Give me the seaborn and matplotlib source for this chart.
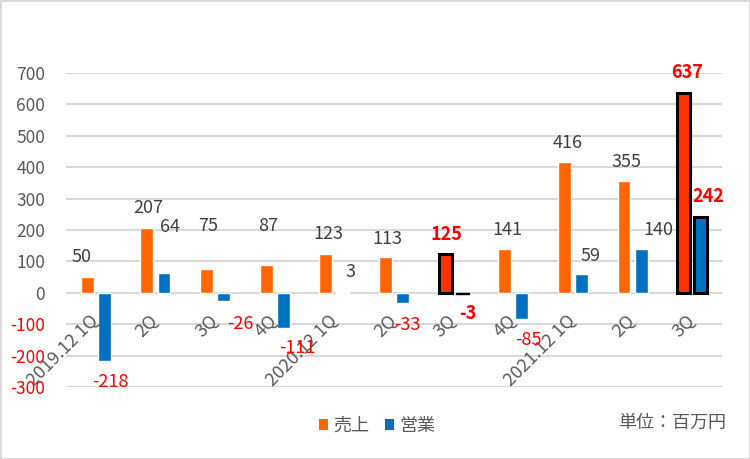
import matplotlib
matplotlib.use("Agg")
import matplotlib.pyplot as plt
import seaborn as sns
import pandas as pd
from matplotlib.patches import Patch

# ---- data ----
categories = ["2019.12 1Q", "2Q", "3Q", "4Q", "2020.12 1Q", "2Q", "3Q", "4Q",
              "2021.12 1Q", "2Q", "3Q"]
sales = [50, 207, 75, 87, 123, 113, 125, 141, 416, 355, 637]        # 売上
op_profit = [-218, 64, -26, -111, 3, -33, -3, -85, 59, 140, 242]     # 営業
highlight = [6, 10]
series_names = ["売上", "営業"]
yticks = [-300, -200, -100, 0, 100, 200, 300, 400, 500, 600, 700]

# label offsets (dx in category units from bar centre, dy in data units from bar end)
sales_lbl_dx = [-0.09, 0.02, 0.02, 0.03, 0.04, 0.03, 0.03, 0.04, 0.05, 0.05, 0.06]
sales_lbl_dy = [65, 64, 138, 126, 65, 59, 60, 60, 62, 62, 63]
op_lbl_dx = [0.095, 0.10, 0.28, 0.233, 0.12, 0.08, 0.10, 0.11, 0.15, 0.29, 0.13]
op_lbl_dy = [-65, 146, -73, -64, 64, -69, -64, -65, 59, 61, 64]

ORANGE = "#FF6600"
BLUE = "#0070C0"
HIGH = "#FF3300"
GRAY = "#595959"
DARK = "#404040"
RED = "#FF0000"

df = pd.DataFrame({
    "cat": list(range(len(categories))) * 2,
    "value": sales + op_profit,
    "series": [series_names[0]] * len(sales) + [series_names[1]] * len(op_profit),
})

sns.set_theme(style="white")
plt.rcParams["font.family"] = ["Noto Sans CJK JP", "DejaVu Sans"]

fig = plt.figure(figsize=(7.5, 4.59), dpi=100)
fig.patch.set_facecolor("white")
fig.patch.set_edgecolor("#D9D9D9")
fig.patch.set_linewidth(2)
ax = fig.add_axes([66 / 750, 1 - 387 / 459, (722 - 66) / 750, (387 - 73) / 459])

sns.barplot(data=df, x="cat", y="value", hue="series", hue_order=series_names,
            palette=[ORANGE, BLUE], width=0.572, gap=0.24, legend=False,
            saturation=1, ax=ax, zorder=3)

ax.set_ylim(-300, 700)
ax.set_xlim(-0.5, len(categories) - 0.5)
ax.set_yticks(yticks)
ax.set_yticklabels([str(v) for v in yticks], fontsize=12.5)
for lbl, v in zip(ax.get_yticklabels(), yticks):
    lbl.set_color(RED if v < 0 else GRAY)
ax.tick_params(axis="y", length=0, pad=15)
ax.set_xticks([])
ax.set_xlabel("")
ax.set_ylabel("")
for s in ax.spines.values():
    s.set_visible(False)
ax.yaxis.grid(True, color="#D9D9D9", linewidth=1.5, zorder=0)
ax.set_axisbelow(True)

sales_bars = ax.containers[0]
op_bars = ax.containers[1]
for i in highlight:
    sb = sales_bars[i]
    sb.set_facecolor(HIGH)
    sb.set_edgecolor("black")
    sb.set_linewidth(2.2)
    ob = op_bars[i]
    ob.set_edgecolor("black")
    ob.set_linewidth(2.2 if abs(op_profit[i]) > 10 else 1.0)

# data labels
for i, v in enumerate(sales):
    b = sales_bars[i]
    xc = b.get_x() + b.get_width() / 2 + sales_lbl_dx[i]
    bold = i in highlight
    col = RED if (bold or v < 0) else DARK
    ax.text(xc, v + sales_lbl_dy[i], str(v), ha="center", va="center",
            fontsize=13, color=col, fontweight="bold" if bold else "normal",
            zorder=5, clip_on=False)
for i, v in enumerate(op_profit):
    b = op_bars[i]
    xc = b.get_x() + b.get_width() / 2 + op_lbl_dx[i]
    bold = i in highlight
    col = RED if (bold or v < 0) else DARK
    ax.text(xc, v + op_lbl_dy[i], str(v), ha="center", va="center",
            fontsize=13, color=col, fontweight="bold" if bold else "normal",
            zorder=5, clip_on=False)

# category labels at the zero line
for i, c in enumerate(categories):
    ax.text(i - 0.11, -60, c, rotation=45, rotation_mode="anchor",
            ha="right", va="top", fontsize=13, color=GRAY, zorder=4)

handles = [Patch(facecolor=ORANGE, edgecolor="none"), Patch(facecolor=BLUE, edgecolor="none")]
fig.legend(handles, series_names, loc="center", bbox_to_anchor=(0.503, 1 - 426 / 459),
           ncol=2, frameon=False, fontsize=13, handlelength=0.5, handleheight=0.5,
           handletextpad=0.3, columnspacing=0.9, labelcolor=GRAY)

fig.text(726 / 750, 1 - 423 / 459, "単位：百万円", ha="right", va="center",
         fontsize=13, color=GRAY)

fig.savefig("out.png", dpi=100, facecolor=fig.get_facecolor(), edgecolor=fig.get_edgecolor())
